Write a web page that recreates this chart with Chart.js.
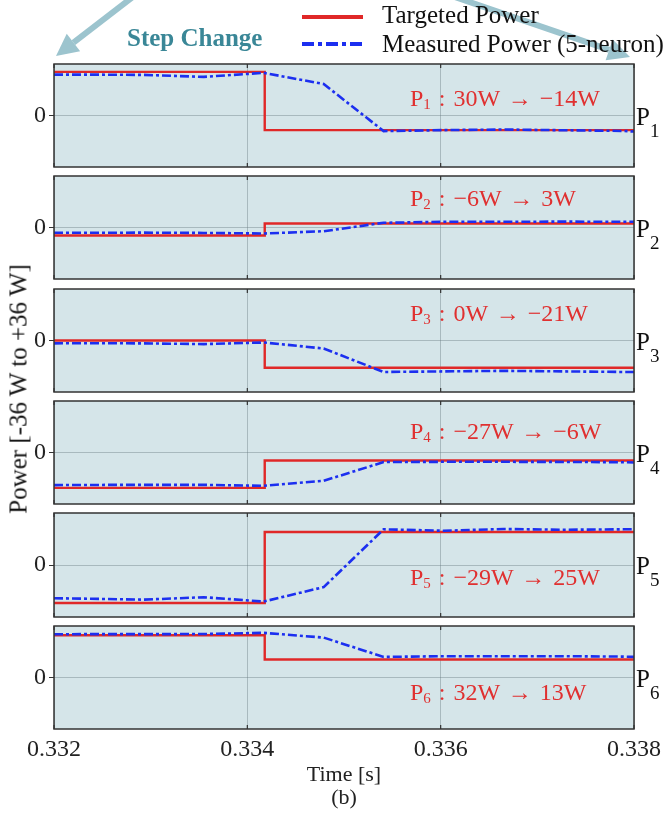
<!DOCTYPE html>
<html>
<head>
<meta charset="utf-8">
<script src="https://cdn.jsdelivr.net/npm/chart.js@4"></script>
<style>
  body { margin: 0; background: #fff; }
  #wrap { position: relative; width: 670px; height: 820px; font-family: "Liberation Serif", "DejaVu Serif", serif; }
  .panel { position: absolute; left: 0; width: 670px; }
  .txt { position: absolute; white-space: nowrap; line-height: 1; }
  .note { color: #e03030; font-size: 24px; word-spacing: 2px; }
  .note sub { font-size: 15px; vertical-align: -3px; }
  .plab { font-size: 25px; color: #111; }
  .plab sub { font-size: 19px; vertical-align: -12px; }
</style>
</head>
<body>
<div id="wrap">
  <canvas id="deco" width="670" height="820" style="position:absolute;left:0;top:0"></canvas>
</div>
<script>
// time axis
const timeMin = 0.332;
const timeMax = 0.338;
const timeTicks = [0.332, 0.334, 0.336, 0.338];

// targeted power: value before / after the step
const stepTime = 0.33418;
const targetBefore = [30.5, -5.6, 0, -24.7, -26.3, 29.5];
const targetAfter = [-10.2, 2.8, -19, -5.6, 22.8, 12.6];

// measured power (5-neuron), sampled times
const measuredTimes = [0.332, 0.33231, 0.33293, 0.33355, 0.33417, 0.33479, 0.33541, 0.33603, 0.33665, 0.33727, 0.33789, 0.338];
const measuredP1 = [28.6, 28.6, 28.4, 27.0, 29.8, 22.0, -10.9, -10.2, -9.8, -10.3, -10.8, -11.2];
const measuredP2 = [-3.7, -3.7, -3.6, -3.8, -4.2, -2.6, 3.3, 4.0, 4.0, 4.1, 4.0, 4.0];
const measuredP3 = [-2.0, -1.9, -2.0, -2.5, -1.4, -5.6, -22.0, -21.6, -21.2, -21.6, -22.0, -22.0];
const measuredP4 = [-22.8, -22.7, -22.6, -22.6, -23.3, -19.8, -6.7, -6.5, -6.5, -6.6, -6.8, -7.0];
const measuredP5 = [-23.0, -23.3, -24.0, -22.3, -25.3, -15.3, 24.7, 23.7, 24.9, 24.4, 24.7, 24.7];
const measuredP6 = [30.2, 30.3, 30.3, 30.4, 31.2, 27.9, 14.4, 14.9, 14.9, 14.9, 14.6, 14.4];
const measured = [measuredP1, measuredP2, measuredP3, measuredP4, measuredP5, measuredP6];

const panelNames = ["1", "2", "3", "4", "5", "6"];
const stepNotes = ["30W \u2192 \u221214W", "\u22126W \u2192 3W", "0W \u2192 \u221221W", "\u221227W \u2192 \u22126W", "\u221229W \u2192 25W", "32W \u2192 13W"];

// layout (pixels)
const panelTop = [64, 176, 289, 401, 513, 626];
const panelBottom = [167, 279, 392, 504, 617, 729];
const noteY = [86, 186, 301, 419, 565, 680];

const RED = "#e02828";
const BLUE = "#1c2ff0";
const BG = "#d5e5e9";
const GRID = "rgba(100,120,125,0.40)";
const wrap = document.getElementById("wrap");

const boxPlugin = {
  id: "box",
  beforeDraw(chart) {
    const a = chart.chartArea, c = chart.ctx;
    c.save();
    c.fillStyle = BG;
    c.fillRect(a.left, a.top, a.right - a.left, a.bottom - a.top);
    c.restore();
  },
  afterDraw(chart) {
    const a = chart.chartArea, c = chart.ctx;
    c.save();
    c.strokeStyle = "#333";
    c.lineWidth = 1.5;
    c.strokeRect(a.left, a.top, a.right - a.left, a.bottom - a.top);
    // small inward ticks on top and bottom edges
    c.lineWidth = 1.2;
    chart.scales.x.ticks.forEach((t) => {
      const px = chart.scales.x.getPixelForValue(t.value);
      c.beginPath();
      c.moveTo(px, a.top); c.lineTo(px, a.top + 4);
      c.moveTo(px, a.bottom); c.lineTo(px, a.bottom - 4);
      c.stroke();
    });
    c.restore();
  }
};

function makePanel(i) {
  const last = i === 5;
  const div = document.createElement("div");
  div.className = "panel";
  const top = panelTop[i] - 2;
  const height = last ? 820 - top : panelBottom[i] - panelTop[i] + 4;
  div.style.top = top + "px";
  div.style.height = height + "px";
  const cv = document.createElement("canvas");
  cv.width = 670; cv.height = height;
  div.appendChild(cv);
  wrap.appendChild(div);

  const bottomPad = last ? 10 : 2;
  const xHeight = last ? height - 2 - (panelBottom[i] - panelTop[i]) - bottomPad : 0;

  new Chart(cv, {
    type: "line",
    data: {
      datasets: [
        {
          label: "Measured Power (5-neuron)",
          data: measured[i].map((v, k) => ({ x: measuredTimes[k], y: v })),
          borderColor: BLUE, borderWidth: 2.6, borderDash: [9, 3, 3, 3],
          pointRadius: 0, tension: 0, order: 0
        },
        {
          label: "Targeted Power",
          data: [
            { x: timeMin, y: targetBefore[i] }, { x: stepTime, y: targetBefore[i] },
            { x: stepTime, y: targetAfter[i] }, { x: timeMax, y: targetAfter[i] }
          ],
          borderColor: RED, borderWidth: 2.4,
          pointRadius: 0, tension: 0, order: 1
        }
      ]
    },
    options: {
      responsive: false, animation: false,
      layout: { padding: { top: 2, bottom: bottomPad, left: 0, right: 36 } },
      plugins: { legend: { display: false }, tooltip: { enabled: false } },
      scales: {
        x: {
          type: "linear", min: timeMin, max: timeMax,
          afterBuildTicks: (axis) => { axis.ticks = timeTicks.map((v) => ({ value: v })); },
          afterFit: (axis) => { axis.height = xHeight; axis.paddingLeft = 0; axis.paddingRight = 0; },
          border: { display: false },
          grid: { color: GRID, lineWidth: 1, drawTicks: false },
          ticks: {
            display: last, padding: 6, color: "#222", maxRotation: 0,
            font: { family: "Liberation Serif", size: 24 },
            callback: (v) => v.toFixed(3)
          },
          title: {
            display: last, text: ["Time [s]", "(b)"], color: "#222",
            font: { family: "Liberation Serif", size: 22, lineHeight: 1.05 },
            padding: { top: 0, bottom: 0 }
          }
        },
        y: {
          min: -36, max: 36,
          afterBuildTicks: (axis) => { axis.ticks = [{ value: 0 }]; },
          afterFit: (axis) => { axis.width = 54; axis.paddingTop = 0; axis.paddingBottom = 0; },
          border: { display: false },
          grid: { color: GRID, lineWidth: 1, tickLength: 5, tickColor: "#333" },
          ticks: {
            padding: 3, color: "#222",
            font: { family: "Liberation Serif", size: 24 }
          }
        }
      }
    },
    plugins: [boxPlugin]
  });

  const note = document.createElement("div");
  note.className = "txt note";
  note.style.left = "410px";
  note.style.top = noteY[i] + "px";
  note.innerHTML = "P<sub>" + panelNames[i] + "</sub> : " + stepNotes[i];
  wrap.appendChild(note);

  const zeroY = (panelTop[i] + panelBottom[i]) / 2;
  const lab = document.createElement("div");
  lab.className = "txt plab";
  lab.style.left = "636px";
  lab.style.top = (zeroY - 12) + "px";
  lab.innerHTML = "P<sub>" + panelNames[i] + "</sub>";
  wrap.appendChild(lab);
}

for (let i = 0; i < 6; i++) makePanel(i);

// header texts
function addText(html, left, top, style) {
  const d = document.createElement("div");
  d.className = "txt";
  d.style.left = left + "px";
  d.style.top = top + "px";
  Object.assign(d.style, style || {});
  d.innerHTML = html;
  wrap.appendChild(d);
  return d;
}
addText("Targeted Power", 382, 2, { fontSize: "25px", color: "#111" });
addText("Measured Power (5-neuron)", 382, 31, { fontSize: "25px", color: "#111" });
addText("Step Change", 127, 25, { fontSize: "25px", color: "#3a8797", fontWeight: "bold" });
const yTitle = addText("Power [-36 W to +36 W]", 0, 0, { fontSize: "25px", color: "#111" });
yTitle.style.left = "18px";
yTitle.style.top = "389px";
yTitle.style.transform = "translate(-50%, -50%) rotate(-90deg)";

// arrows and legend samples
const dc = document.getElementById("deco").getContext("2d");
function arrow(x1, y1, x2, y2) {
  const ang = Math.atan2(y2 - y1, x2 - x1);
  const hl = 22, hw = 11;
  const bx = x2 - hl * Math.cos(ang), by = y2 - hl * Math.sin(ang);
  dc.strokeStyle = "#9cc4ce"; dc.fillStyle = "#9cc4ce";
  dc.lineWidth = 6;
  dc.beginPath(); dc.moveTo(x1, y1); dc.lineTo(bx, by); dc.stroke();
  dc.beginPath();
  dc.moveTo(x2, y2);
  dc.lineTo(bx + hw * Math.sin(ang), by - hw * Math.cos(ang));
  dc.lineTo(bx - hw * Math.sin(ang), by + hw * Math.cos(ang));
  dc.closePath(); dc.fill();
}
arrow(134, -4, 56, 56);
arrow(452, -4, 630, 57);

dc.lineWidth = 4;
dc.strokeStyle = RED;
dc.beginPath(); dc.moveTo(302, 17); dc.lineTo(363, 17); dc.stroke();
dc.strokeStyle = BLUE;
dc.setLineDash([12, 4, 4, 4]);
dc.beginPath(); dc.moveTo(302, 44); dc.lineTo(363, 44); dc.stroke();
dc.setLineDash([]);
</script>
</body>
</html>
